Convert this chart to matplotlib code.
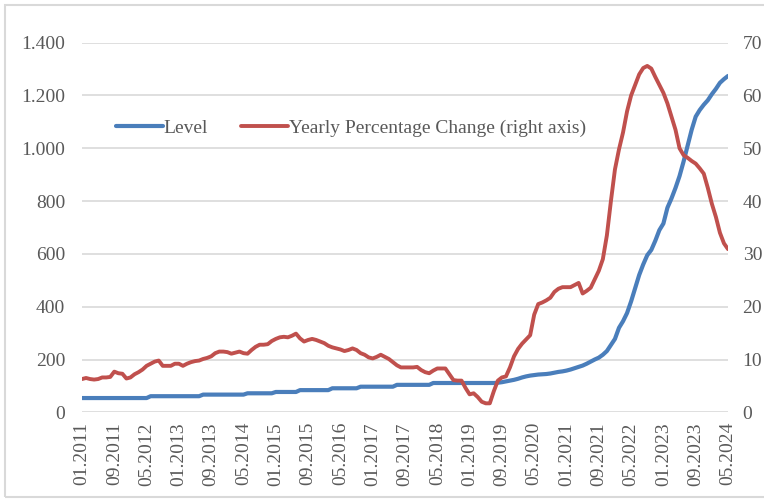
"""
Level and yearly percentage change, monthly 01.2011 - 05.2024
"""

import pandas as pd
import matplotlib.pyplot as plt
from matplotlib.patches import Rectangle


# =============================================================================
# DATA
# =============================================================================

MONTHS = pd.date_range('2011-01-01', '2024-05-01', freq='MS')

LEVEL = [
    # 2011
    54, 54, 54, 54, 54, 54, 54, 54, 54, 54, 54, 54,
    # 2012
    54, 54, 54, 54, 54, 61, 61, 61, 61, 61, 61, 61,
    # 2013
    61, 61, 61, 61, 61, 61, 67, 67, 67, 67, 67, 67,
    # 2014
    67, 67, 67, 67, 67, 72, 72, 72, 72, 72, 72, 72,
    # 2015
    77, 77, 77, 77, 77, 77, 84, 84, 84, 84, 84, 84,
    # 2016
    84, 84, 91, 91, 91, 91, 91, 91, 91, 97, 97, 97,
    # 2017
    97, 97, 97, 97, 97, 97, 104, 104, 104, 104, 104, 104,
    # 2018
    104, 104, 104, 111, 111, 111, 111, 111, 111, 111, 111, 111,
    # 2019
    111, 111, 111, 111, 111, 111, 111, 112, 114, 117, 120, 123,
    # 2020
    127, 132, 136, 139, 141, 143, 144, 145, 147, 150, 153, 155,
    # 2021
    158, 162, 167, 172, 177, 184, 192, 200, 207, 218, 232, 255,
    # 2022
    278, 320, 345, 376, 420, 470, 520, 560, 595, 615, 650, 690,
    # 2023
    715, 775, 810, 850, 895, 950, 1010, 1070, 1120, 1145, 1165, 1182,
    # 2024
    1205, 1225, 1248, 1262, 1274,
]

YEARLY_CHANGE = [
    # 2011
    6.3, 6.5, 6.3, 6.2, 6.3, 6.6, 6.6, 6.7, 7.7, 7.4, 7.3, 6.4,
    # 2012
    6.6, 7.2, 7.6, 8.1, 8.8, 9.2, 9.6, 9.8, 8.8, 8.8, 8.8, 9.2,
    # 2013
    9.2, 8.8, 9.2, 9.5, 9.7, 9.8, 10.1, 10.3, 10.6, 11.2, 11.5, 11.5,
    # 2014
    11.4, 11.1, 11.3, 11.5, 11.2, 11.1, 11.8, 12.4, 12.8, 12.8, 12.9, 13.5,
    # 2015
    13.9, 14.2, 14.3, 14.2, 14.5, 14.9, 14.0, 13.4, 13.7, 13.9, 13.7, 13.4,
    # 2016
    13.1, 12.6, 12.3, 12.1, 11.9, 11.6, 11.8, 12.1, 11.8, 11.2, 10.9, 10.4,
    # 2017
    10.2, 10.5, 10.9, 10.5, 10.1, 9.5, 8.9, 8.5, 8.5, 8.5, 8.5, 8.6,
    # 2018
    8.0, 7.6, 7.4, 7.9, 8.3, 8.3, 8.3, 7.2, 6.1, 6.0, 6.0, 4.6,
    # 2019
    3.4, 3.6, 2.9, 2.0, 1.7, 1.7, 4.0, 6.0, 6.6, 6.8, 8.5, 10.6,
    # 2020
    12.0, 13.0, 13.8, 14.6, 18.5, 20.5, 20.8, 21.2, 21.7, 22.8, 23.4, 23.7,
    # 2021
    23.7, 23.7, 24.1, 24.5, 22.5, 23.0, 23.6, 25.2, 26.8, 29.0, 33.5, 40.0,
    # 2022
    46.0, 49.8, 53.0, 57.0, 60.0, 62.0, 64.0, 65.2, 65.6, 65.1, 63.5, 62.0,
    # 2023
    60.5, 58.5, 56.0, 53.5, 50.0, 48.7, 48.2, 47.6, 47.1, 46.2, 45.2, 42.5,
    # 2024
    39.5, 37.0, 34.0, 32.0, 30.9,
]

LEFT_TICKS = [0, 200, 400, 600, 800, 1000, 1200, 1400]
LEFT_TICK_LABELS = ['0', '200', '400', '600', '800', '1.000', '1.200', '1.400']
RIGHT_TICKS = [0, 10, 20, 30, 40, 50, 60, 70]

LABEL_STEP = 8  # one x label every 8 months


# =============================================================================
# STYLE
# =============================================================================

BLUE = '#4a7ebb'
RED = '#c0504d'
TEXT = '#595959'
GRID = '#d9d9d9'

plt.rcParams['font.family'] = ['Liberation Serif', 'DejaVu Serif']


# =============================================================================
# PLOT
# =============================================================================

fig = plt.figure(figsize=(7.64, 5.0), dpi=100)
ax = fig.add_axes([82 / 764, 1 - 412.3 / 500, 646 / 764, 369.6 / 500])
ax2 = ax.twinx()

x = range(len(MONTHS))
ax.plot(x, LEVEL, color=BLUE, linewidth=3.0, solid_capstyle='round',
        label='Level')
ax2.plot(x, YEARLY_CHANGE, color=RED, linewidth=2.8, solid_capstyle='round',
         label='Yearly Percentage Change (right axis)')

# axes
ax.set_xlim(0, len(MONTHS) - 1)
ax.set_ylim(0, 1400)
ax2.set_ylim(0, 70)
ax.set_yticks(LEFT_TICKS)
ax.set_yticklabels(LEFT_TICK_LABELS)
ax2.set_yticks(RIGHT_TICKS)

tick_pos = list(range(0, len(MONTHS), LABEL_STEP))
ax.set_xticks(tick_pos)
ax.set_xticklabels([MONTHS[i].strftime('%m.%Y') for i in tick_pos],
                   rotation=90)

for a in (ax, ax2):
    for s in a.spines.values():
        s.set_visible(False)
    a.tick_params(length=0, labelsize=14, labelcolor=TEXT)
ax.tick_params(axis='y', pad=12)
ax2.tick_params(axis='y', pad=10.5)
ax.tick_params(axis='x', pad=7)

ax.grid(axis='y', color=GRID, linewidth=1.2)
ax.set_axisbelow(True)

# legend
h1, l1 = ax.get_legend_handles_labels()
h2, l2 = ax2.get_legend_handles_labels()
fig.legend(h1 + h2, l1 + l2, loc='center left',
           bbox_to_anchor=(116 / 764, 1 - 128 / 500), ncol=2,
           frameon=False, fontsize=14, labelcolor=TEXT, borderpad=0,
           borderaxespad=0, handlelength=2.4, handletextpad=0.05,
           columnspacing=1.7)

# outer chart border
fig.patches.append(Rectangle((5 / 764, 3 / 500), 1.2, 492 / 500,
                             transform=fig.transFigure, fill=False,
                             edgecolor=GRID, linewidth=1.5))

fig.savefig('out.png', dpi=100, facecolor='white')
